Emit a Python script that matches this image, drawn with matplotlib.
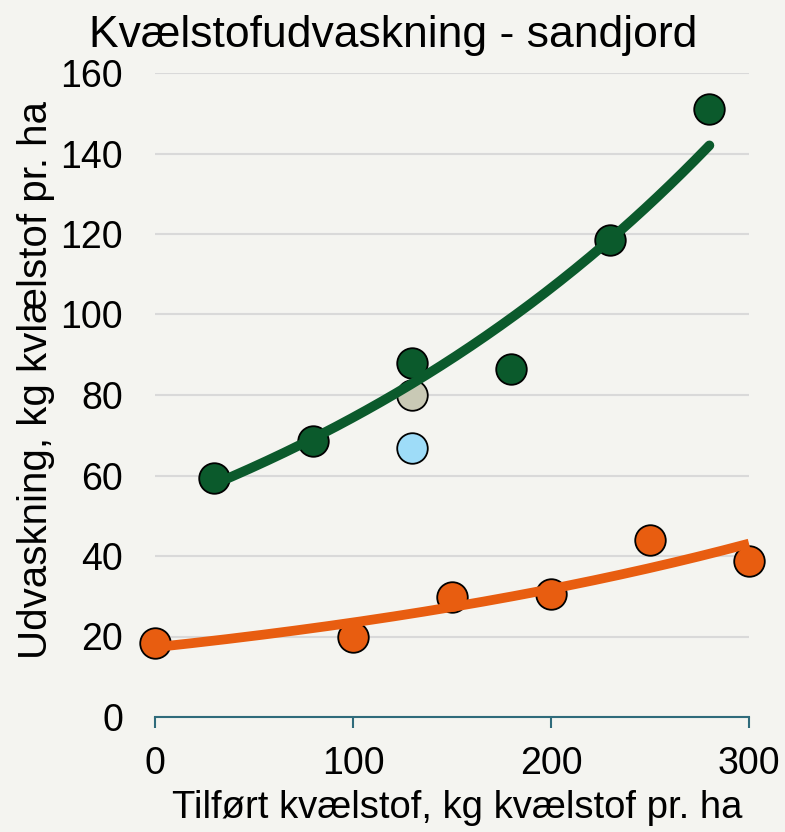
import numpy as np
import matplotlib
matplotlib.use("Agg")
import matplotlib.pyplot as plt

plt.rcParams['font.family'] = ['Liberation Sans', 'DejaVu Sans']

# Data
green_x = [30, 80, 130, 180, 230, 280]
green_y = [59.5, 68.5, 88.0, 86.5, 118.5, 151.0]
tan_x = [130]
tan_y = [80.0]
blue_x = [130]
blue_y = [66.8]
orange_x = [0, 100, 150, 200, 250, 300]
orange_y = [18.3, 19.8, 29.8, 30.6, 44.0, 38.8]

x_ticks = [0, 100, 200, 300]
y_ticks = [0, 20, 40, 60, 80, 100, 120, 140, 160]

title = "Kvælstofudvaskning - sandjord"
xlabel = "Tilført kvælstof, kg kvælstof pr. ha"
ylabel = "Udvaskning, kg kvlælstof pr. ha"

GREEN = "#0B5A2C"
ORANGE = "#E85D10"
TAN = "#C9C9B5"
BLUE = "#9EDCF8"
BG = "#F4F4F0"
AXC = "#2F6B7B"


def exp_trend(x, y, n=200):
    x = np.asarray(x, float)
    y = np.asarray(y, float)
    b, a = np.polyfit(x, np.log(y), 1)
    xs = np.linspace(x.min(), x.max(), n)
    return xs, np.exp(a) * np.exp(b * xs)


fig = plt.figure(figsize=(7.85, 8.32), dpi=100, facecolor=BG)
ax = fig.add_axes([155 / 785, 1 - 717 / 832, (749 - 155) / 785, (717 - 73) / 832])
ax.set_facecolor(BG)

ms = 22
for xs, ys, c in [(green_x, green_y, GREEN), (tan_x, tan_y, TAN),
                  (blue_x, blue_y, BLUE), (orange_x, orange_y, ORANGE)]:
    ax.plot(xs, ys, 'o', ms=ms, mfc=c, mec='black', mew=1.3, zorder=3, clip_on=False)

gx, gy = exp_trend(green_x, green_y)
ax.plot(gx, gy, color=GREEN, lw=7, solid_capstyle='round', zorder=4, clip_on=False)
ox, oy = exp_trend(orange_x, orange_y)
ax.plot(ox, oy, color=ORANGE, lw=7, solid_capstyle='butt', zorder=4, clip_on=False)

ax.set_xlim(0, 300)
ax.set_ylim(0, 160)
ax.set_xticks(x_ticks)
ax.set_yticks(y_ticks)
ax.grid(axis='y', color='#D9D9D9', lw=1.5, zorder=0)
ax.set_axisbelow(True)

for s in ['top', 'right', 'left']:
    ax.spines[s].set_visible(False)
ax.spines['bottom'].set_color(AXC)
ax.spines['bottom'].set_linewidth(1.5)
ax.spines['bottom'].set_zorder(2)

ax.tick_params(axis='x', direction='out', length=8, width=1.5, color=AXC,
               labelsize=27, pad=13, labelcolor='black')
ax.tick_params(axis='y', length=0, labelsize=27, pad=23, labelcolor='black')

fig.text(393 / 785, 1 - 35 / 832, title, ha='center', va='center', fontsize=32)
fig.text(457 / 785, 1 - 808 / 832, xlabel, ha='center', va='center', fontsize=27.5)
fig.text(36 / 785, 1 - 380 / 832, ylabel, ha='center', va='center', rotation=90, fontsize=29)

fig.savefig("out.png", dpi=100, facecolor=BG)
